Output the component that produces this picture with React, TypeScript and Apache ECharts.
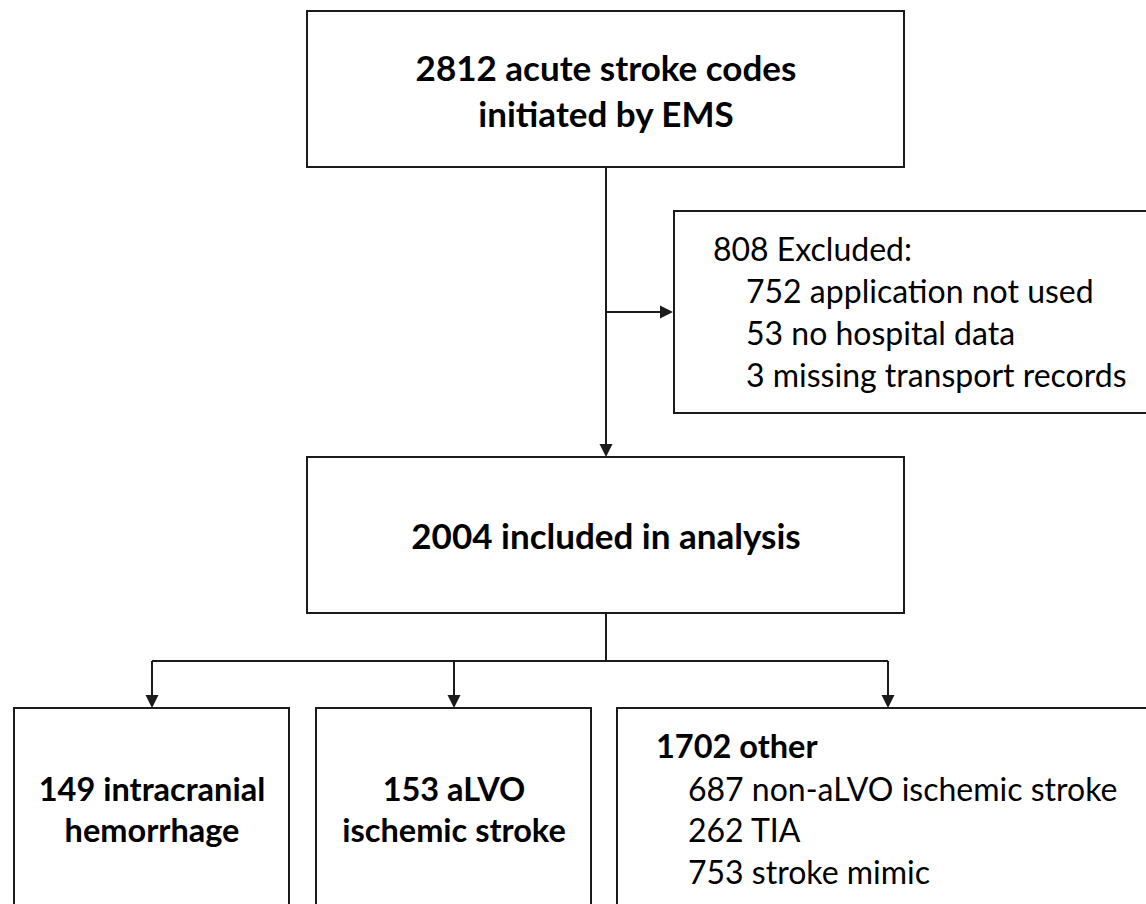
import React, { useEffect, useRef } from "react";
import * as echarts from "echarts";

// ---- content (texts) ----
const topLines = ["2812 acute stroke codes", "initiated by EMS"];
const excludedHeader = "808 Excluded:";
const excludedItems = ["752 application not used", "53 no hospital data", "3 missing transport records"];
const includedLines = ["2004 included in analysis"];
const ichLines = ["149 intracranial", "hemorrhage"];
const alvoLines = ["153 aLVO", "ischemic stroke"];
const otherHeader = "1702 other";
const otherItems = ["687 non-aLVO ischemic stroke", "262 TIA", "753 stroke mimic"];

const FONT = "Lato, 'Noto Sans', sans-serif";
const INK = "#1b1b1b";
const LW = 2;
const BIG = 35;
const BOLD = 32.5;
const NORM = 32;

function box(x: number, y: number, w: number, h: number) {
  return {
    type: "rect",
    shape: { x, y, width: w, height: h },
    style: { fill: "#fff", stroke: INK, lineWidth: LW },
  };
}
function seg(x1: number, y1: number, x2: number, y2: number) {
  return {
    type: "line",
    shape: { x1, y1, x2, y2 },
    style: { stroke: INK, lineWidth: LW },
  };
}
function arrowDown(x: number, tipY: number) {
  return {
    type: "polygon",
    shape: { points: [[x - 6.5, tipY - 13], [x + 6.5, tipY - 13], [x, tipY]] },
    style: { fill: INK },
  };
}
function arrowRight(tipX: number, y: number) {
  return {
    type: "polygon",
    shape: { points: [[tipX - 13, y - 6.5], [tipX - 13, y + 6.5], [tipX, y]] },
    style: { fill: INK },
  };
}
function txt(s: string, x: number, baseline: number, fs: number, bold: boolean, align: string) {
  return {
    type: "text",
    x,
    y: baseline - fs * 0.36,
    style: {
      text: s,
      fill: "#000",
      font: `${bold ? "bold " : ""}${fs}px ${FONT}`,
      align,
      verticalAlign: "middle",
    },
  };
}

export default function App() {
  const ref = useRef<HTMLDivElement>(null);
  useEffect(() => {
    if (!ref.current) return;
    const chart = echarts.init(ref.current, undefined, { renderer: "svg" });
    const els: any[] = [];
    // connectors
    els.push(seg(606, 167, 606, 446));
    els.push(arrowDown(606, 457));
    els.push(seg(606, 312, 662, 312));
    els.push(arrowRight(673, 312));
    els.push(seg(606, 613, 606, 661));
    els.push(seg(152, 661, 888, 661));
    [152, 454, 888].forEach((x) => {
      els.push(seg(x, 661, x, 697));
      els.push(arrowDown(x, 708));
    });
    // boxes
    els.push(box(307, 11, 597, 156));
    els.push(box(674, 211, 490, 202));
    els.push(box(307, 457, 597, 156));
    els.push(box(14, 708, 275, 220));
    els.push(box(316, 708, 275, 220));
    els.push(box(617, 708, 560, 220));
    // texts
    topLines.forEach((s, i) => els.push(txt(s, 606, 80 + i * 46, BIG, true, "center")));
    els.push(txt(excludedHeader, 713, 260, NORM, false, "left"));
    excludedItems.forEach((s, i) => els.push(txt(s, 746, 302 + i * 42, NORM, false, "left")));
    includedLines.forEach((s, i) => els.push(txt(s, 606, 548 + i * 46, BIG, true, "center")));
    ichLines.forEach((s, i) => els.push(txt(s, 152, 800 + i * 41, BOLD, true, "center")));
    alvoLines.forEach((s, i) => els.push(txt(s, 454, 800 + i * 41, BOLD, true, "center")));
    els.push(txt(otherHeader, 656, 757, BOLD, true, "left"));
    otherItems.forEach((s, i) => els.push(txt(s, 688, 800 + i * 41.5, NORM, false, "left")));

    chart.setOption({
      animation: false,
      backgroundColor: "#ffffff",
      graphic: { elements: els },
    });
    return () => chart.dispose();
  }, []);
  return (
    <div
      ref={ref}
      style={{ position: "fixed", left: 0, top: 0, width: 1146, height: 904, background: "#fff" }}
    />
  );
}
